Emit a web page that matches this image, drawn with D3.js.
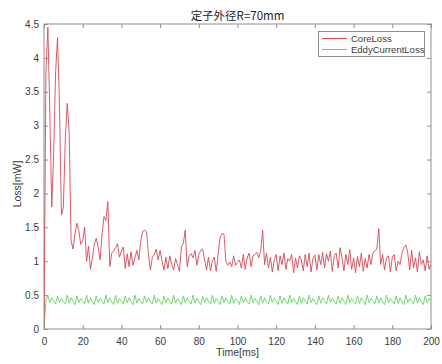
<!DOCTYPE html>
<html><head><meta charset="utf-8">
<script src="https://cdn.jsdelivr.net/npm/d3@7"></script>
<style>
body{margin:0;background:#fff;}
text{font-family:"Liberation Sans",Arial,"Noto Sans CJK SC",sans-serif;}
</style></head>
<body><svg id="c" width="442" height="364"></svg>
<script>
const title = "定子外径R=70mm";
const xLabel = "Time[ms]";
const yLabel = "Loss[mW]";
const seriesNames = ["CoreLoss", "EddyCurrentLoss"];
const xTicks = [0,20,40,60,80,100,120,140,160,180,200];
const yTicks = [0,0.5,1,1.5,2,2.5,3,3.5,4,4.5];
const yTickLabels = ["0","0.5","1","1.5","2","2.5","3","3.5","4","4.5"];

// time in ms, 1 ms step 0..200
const coreLoss = [
0.00,3.80,4.45,3.20,1.80,2.60,3.80,4.30,3.30,1.68,
1.80,2.80,3.33,2.90,1.30,1.18,1.40,1.56,1.45,1.25,
1.30,1.50,1.00,1.22,0.88,1.05,1.25,1.34,1.20,1.02,
1.40,1.66,1.60,1.88,0.92,1.12,1.15,1.20,1.26,1.06,
1.15,1.21,0.89,1.11,0.92,1.14,0.94,1.05,1.16,1.02,
1.30,1.44,1.46,1.43,1.10,0.87,1.06,1.10,1.18,1.02,
1.16,1.00,0.87,1.06,0.89,1.08,0.95,0.87,1.04,0.95,
0.85,1.21,1.26,1.46,0.92,1.08,1.11,1.05,1.16,0.94,
1.10,1.16,1.18,1.02,0.87,1.06,0.86,1.00,1.06,0.85,
1.10,1.35,1.41,1.40,1.00,0.94,0.99,0.92,1.08,0.94,
0.98,1.02,0.90,1.10,0.88,1.05,1.12,0.92,1.08,1.10,
1.13,1.05,1.15,1.46,0.95,1.12,0.90,1.06,0.84,1.02,
1.10,0.86,1.08,0.95,1.12,0.88,1.04,1.00,1.10,0.83,
1.05,0.90,1.08,1.02,0.86,1.10,0.92,1.12,0.84,1.04,
1.09,0.87,1.10,0.95,1.13,0.90,1.11,1.00,1.15,0.85,
1.08,1.12,0.90,1.20,1.05,0.86,1.10,0.95,1.17,0.88,
1.05,0.83,1.07,0.92,1.12,0.85,1.04,0.90,1.10,0.95,
1.12,1.15,1.18,1.48,0.95,1.10,0.87,1.05,1.08,0.84,
1.06,1.10,0.86,1.00,0.95,1.12,1.20,1.24,1.12,0.87,
1.16,0.90,1.05,0.84,1.14,0.95,1.02,0.86,1.08,0.88,
0.95
];
const eddyLoss = [
0.00,0.42,0.50,0.39,0.46,0.41,0.37,0.49,0.39,0.45,
0.40,0.37,0.50,0.38,0.46,0.41,0.36,0.49,0.39,0.45,
0.41,0.37,0.50,0.38,0.46,0.40,0.36,0.49,0.39,0.45,
0.41,0.37,0.50,0.39,0.46,0.40,0.36,0.50,0.38,0.45,
0.41,0.37,0.49,0.39,0.46,0.40,0.36,0.50,0.38,0.45,
0.41,0.37,0.49,0.39,0.46,0.40,0.37,0.50,0.38,0.45,
0.40,0.36,0.49,0.39,0.46,0.41,0.37,0.50,0.38,0.45,
0.40,0.36,0.49,0.39,0.46,0.41,0.37,0.50,0.38,0.45,
0.40,0.36,0.49,0.39,0.46,0.41,0.37,0.50,0.38,0.45,
0.41,0.36,0.49,0.39,0.46,0.40,0.37,0.50,0.38,0.45,
0.41,0.36,0.49,0.39,0.46,0.40,0.37,0.50,0.39,0.45,
0.41,0.36,0.49,0.38,0.46,0.40,0.37,0.50,0.39,0.45,
0.41,0.36,0.49,0.38,0.46,0.40,0.37,0.50,0.39,0.45,
0.40,0.36,0.49,0.38,0.46,0.41,0.37,0.50,0.39,0.45,
0.40,0.36,0.49,0.38,0.46,0.41,0.37,0.50,0.39,0.45,
0.40,0.37,0.49,0.38,0.46,0.41,0.36,0.50,0.39,0.45,
0.40,0.37,0.49,0.38,0.46,0.41,0.36,0.50,0.39,0.45,
0.41,0.37,0.49,0.38,0.46,0.40,0.36,0.50,0.39,0.45,
0.41,0.37,0.49,0.38,0.46,0.40,0.36,0.50,0.39,0.45,
0.41,0.37,0.50,0.38,0.46,0.40,0.36,0.49,0.39,0.45,
0.41
];
const times = coreLoss.map((_, i) => i);

const svg = d3.select("#c");
const m = {left:44, right:431, top:24, bottom:329};
const x = d3.scaleLinear().domain([0,200]).range([m.left, m.right]);
const y = d3.scaleLinear().domain([0,4.5]).range([m.bottom, m.top]);
const axisColor = "#8f8f8f";
const textColor = "#3a3a3a";

// box
svg.append("rect").attr("x", m.left).attr("y", m.top)
  .attr("width", m.right - m.left).attr("height", m.bottom - m.top)
  .attr("fill", "none").attr("stroke", axisColor).attr("stroke-width", 1);

const tl = 4;
const gx = svg.append("g").attr("transform", `translate(0,${m.bottom})`)
  .call(d3.axisBottom(x).tickValues(xTicks).tickSize(-tl).tickPadding(9).tickFormat(d3.format("d")));
const gxt = svg.append("g").attr("transform", `translate(0,${m.top})`)
  .call(d3.axisTop(x).tickValues(xTicks).tickSize(-tl).tickFormat(""));
const gy = svg.append("g").attr("transform", `translate(${m.left},0)`)
  .call(d3.axisLeft(y).tickValues(yTicks).tickSize(-tl).tickPadding(5).tickFormat((d,i) => yTickLabels[i]));
const gyr = svg.append("g").attr("transform", `translate(${m.right},0)`)
  .call(d3.axisRight(y).tickValues(yTicks).tickSize(-tl).tickFormat(""));

[gx, gxt, gy, gyr].forEach(g => {
  g.select(".domain").remove();
  g.selectAll(".tick line").attr("stroke", axisColor);
  g.selectAll(".tick text").attr("fill", textColor).style("font-size", "10px")
    .style("font-family", '"Liberation Sans", Arial, sans-serif');
});

const clip = svg.append("clipPath").attr("id", "clp").append("rect")
  .attr("x", m.left).attr("y", m.top).attr("width", m.right - m.left).attr("height", m.bottom - m.top);
const line = d3.line().x((d,i) => x(times[i])).y(d => y(d));
const colors = ["#d24a57", "#5fd65f"];
svg.append("path").datum(eddyLoss).attr("d", line).attr("fill", "none")
  .attr("stroke", colors[1]).attr("stroke-width", 0.9).attr("clip-path", "url(#clp)");
svg.append("path").datum(coreLoss).attr("d", line).attr("fill", "none")
  .attr("stroke", colors[0]).attr("stroke-width", 0.9).attr("clip-path", "url(#clp)");

svg.append("text").attr("x", (m.left + m.right)/2).attr("y", 20).attr("text-anchor", "middle")
  .attr("fill", "#222").style("font-size", "11.5px")
  .style("font-family", '"Noto Sans CJK SC", "Liberation Sans", sans-serif').text(title);
svg.append("text").attr("x", (m.left + m.right)/2).attr("y", 356).attr("text-anchor", "middle")
  .attr("fill", textColor).style("font-size", "10.5px").text(xLabel);
svg.append("text").attr("transform", `translate(21,184) rotate(-90)`)
  .attr("text-anchor", "middle").attr("fill", textColor).style("font-size", "10.5px").text(yLabel);

const lg = svg.append("g");
lg.append("rect").attr("x", 318.5).attr("y", 31.5).attr("width", 106).attr("height", 25)
  .attr("fill", "#fff").attr("stroke", axisColor).attr("stroke-width", 1);
seriesNames.forEach((n, i) => {
  const yy = 38.5 + i * 11;
  lg.append("line").attr("x1", 322).attr("x2", 347).attr("y1", yy).attr("y2", yy)
    .attr("stroke", colors[i]).attr("stroke-width", 1);
  lg.append("text").attr("x", 351).attr("y", yy + 3.3).attr("fill", textColor)
    .style("font-size", "9.5px").text(n);
});
</script></body></html>
